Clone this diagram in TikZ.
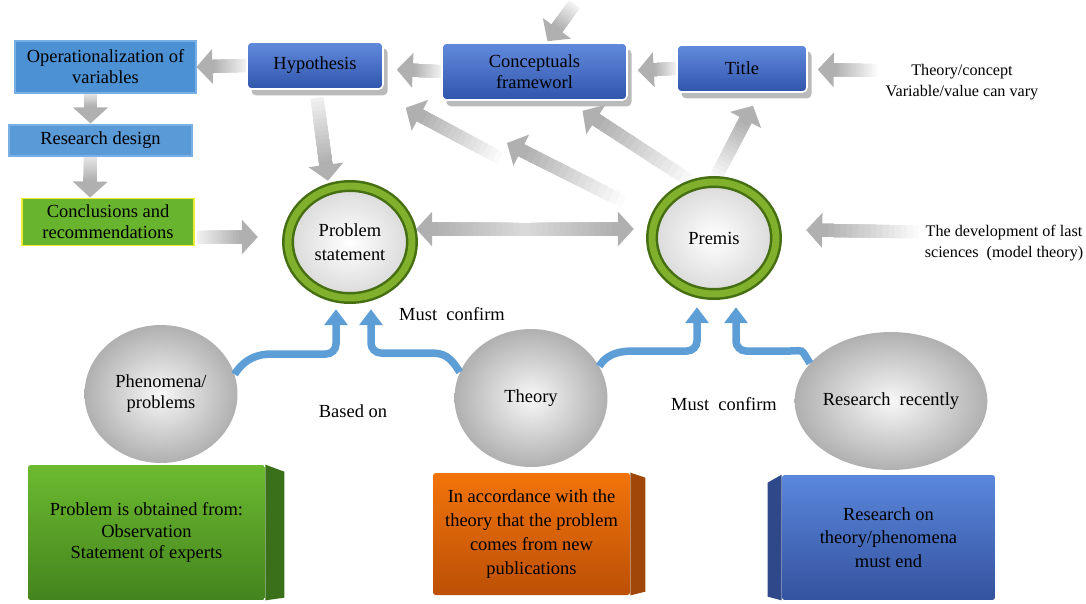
\documentclass[tikz,border=0pt]{standalone}
\usepackage{fontspec}
\setmainfont{Liberation Serif}
\usepackage{tikz}
\usetikzlibrary{shapes,arrows.meta,positioning,calc,shadows,backgrounds}
\definecolor{BoxBlue}{RGB}{76,145,212}
\definecolor{BoxBlueLine}{RGB}{120,175,228}
\definecolor{DeepBlueTop}{RGB}{98,138,220}
\definecolor{DeepBlueBot}{RGB}{48,86,172}
\definecolor{LeafGreen}{RGB}{104,180,46}
\definecolor{EdgeYellow}{RGB}{236,236,50}
\definecolor{RingDark}{RGB}{70,110,18}
\definecolor{RingLight}{RGB}{128,176,44}
\definecolor{ArrowBlue}{RGB}{94,158,214}
\definecolor{GreenTop}{RGB}{108,186,48}
\definecolor{GreenBot}{RGB}{68,132,30}
\definecolor{GreenSide}{RGB}{58,112,26}
\definecolor{OrangeTop}{RGB}{242,116,10}
\definecolor{OrangeBot}{RGB}{188,80,6}
\definecolor{OrangeSide}{RGB}{160,72,10}
\definecolor{BlueTop}{RGB}{90,135,220}
\definecolor{BlueBot}{RGB}{52,82,158}
\definecolor{BlueSide}{RGB}{46,72,138}

% wide grey arrow, light at the tail
\newcommand{\grayarrow}[3][12]{%
  \coordinate (gaB) at ($(#3)!0.32cm!(#2)$);
  \foreach \k [evaluate=\k as \tone using #1+(62-#1)*\k/15] in {0,...,15}
    \draw[line width=0.26cm, draw=gray!\tone] ($(#2)!\k/16!(gaB)$) -- ($(gaB)!-0.02cm!(#2)$);
  \fill[gray!62] (#3) -- ($(gaB)!0.35cm!90:(#2)$) -- ($(gaB)!0.35cm!-90:(#2)$) -- cycle;
}

\begin{document}
\begin{tikzpicture}[x=0.02cm, y=-0.02cm,
  every node/.style={font=\fontsize{10.5}{12}\selectfont, align=center},
  flatbox/.style={rectangle, draw=BoxBlueLine, fill=BoxBlue, line width=0.6pt, inner sep=1pt},
  glossbox/.style={rectangle, rounded corners=2.5pt, draw=white, line width=0.9pt,
    top color=DeepBlueTop, bottom color=DeepBlueBot,
    drop shadow={shadow xshift=2.6pt, shadow yshift=-3.6pt, fill=gray!60, opacity=0.9}},
  ring/.style={ellipse, inner color=white, outer color=gray!30, draw=RingDark, line width=0.05cm,
    double=RingLight, double distance=0.14cm, minimum width=2.48cm, minimum height=2.24cm,
    inner sep=0pt, font=\fontsize{10.5}{14}\selectfont},
  globe/.style={ellipse, inner color=gray!6, outer color=gray!62, minimum width=3.06cm, minimum height=2.76cm, inner sep=0pt},
  cube/.style={rectangle, rounded corners=1.5pt, inner sep=2pt, font=\fontsize{10.5}{13.5}\selectfont},
  bluearrow/.style={draw=ArrowBlue, line width=0.15cm, rounded corners=0.2cm,
    -{Triangle[width=0.46cm, length=0.32cm]}},
  txt/.style={inner sep=1pt},
  sidetxt/.style={inner sep=1pt, font=\fontsize{9.2}{12}\selectfont}]
  \useasboundingbox (0,0) rectangle (1086,603);

  \node[flatbox, minimum width=3.62cm, minimum height=1.04cm] (oper) at (105.5,67) {Operationalization of\\variables};
  \node[flatbox, fill=BoxBlue!92!white, minimum width=3.66cm, minimum height=0.62cm] (design) at (100.5,140.5) {Research design};
  \node[flatbox, draw=EdgeYellow, fill=LeafGreen, line width=1.1pt, minimum width=3.44cm, minimum height=0.94cm] (concl) at (108,222) {Conclusions and\\recommendations};

  \node[glossbox, minimum width=2.72cm, minimum height=0.94cm] (hyp) at (315,65.5) {Hypothesis};
  \node[glossbox, minimum width=3.7cm, minimum height=1.14cm] (concept) at (534.5,71.5) {Conceptuals\\frameworl};
  \node[glossbox, minimum width=2.6cm, minimum height=0.94cm] (title) at (742,68.5) {Title};
  \node[sidetxt] (thc) at (962,82.5) {Theory/concept\\Variable/value can vary};
  \node[sidetxt] (dev) at (1004,243) {The development of last\\sciences~ (model theory)};

  \node[ring] (prob) at (350,242) {Problem\\statement};
  \node[ring] (prem) at (714,238) {Premis};

  \node[globe] (phen) at (161,394) {Phenomena/\\problems};
  \node[globe] (theo) at (531,398) {Theory};
  \node[globe] (rsch) at (891,401) {Research~ recently};

  \node[txt] (conf1) at (452,314) {Must~ confirm};
  \node[txt] (based) at (353,411) {Based on};
  \node[txt] (conf2) at (724,404) {Must~ confirm};

  \node[cube, top color=GreenTop, bottom color=GreenBot, minimum width=4.74cm, minimum height=2.7cm,
    font=\fontsize{10.5}{12}\selectfont] (obtain) at (146.5,532.5) {Problem is obtained from:\\Observation\\Statement of experts};
  \node[cube, top color=OrangeTop, bottom color=OrangeBot, minimum width=3.94cm, minimum height=2.44cm] (accord) at (531.5,534) {In accordance with the\\theory that the problem\\comes from new\\publications};
  \node[cube, top color=BlueTop, bottom color=BlueBot, minimum width=4.26cm, minimum height=2.5cm] (endrs) at (888.5,537.5) {Research on\\theory/phenomena\\must end};
  \fill[GreenSide] (obtain.north east) -- ++(19,7) -- ++(0,126) -- (obtain.south east) -- cycle;
  \fill[OrangeSide] (accord.north east) -- ++(15,5) -- ++(0,114) -- (accord.south east) -- cycle;
  \fill[BlueSide] (endrs.north west) -- ++(-14,8) -- ++(0,114) -- (endrs.south west) -- cycle;

  \coordinate (hypTip) at ($(hyp.east)+(13,4)$);
  \coordinate (conTip) at ($(concept.east)+(10,-1)$);
  \coordinate (ttlTip) at ($(title.east)+(10,1)$);
  \coordinate (thcTail) at ($(thc.west)+(-6,-12)$);
  \coordinate (opTail) at ($(oper.south)+(-15,0)$);
  \coordinate (dsTip) at ($(design.north)+(-10,-1)$);
  \coordinate (dsTail) at ($(design.south)+(-10,0)$);
  \coordinate (ccTip) at ($(concl.north)+(-18,0)$);
  \coordinate (ccTail) at ($(concl.east)+(2,15)$);
  \coordinate (pbWest) at ($(prob.west)+(-29,-5)$);
  \coordinate (hypTail) at ($(hyp.south)+(2,8)$);
  \coordinate (pbTop) at ($(prob.north)+(-22,-4)$);
  \coordinate (dm) at (525,229);
  \coordinate (dl) at ($(prob.east)+(3,-13)$);
  \coordinate (dr) at ($(prem.west)+(-17,-9)$);
  \coordinate (cnTip) at ($(concept.south)+(48,10)$);
  \coordinate (aTail) at (500,158);
  \coordinate (hpTip) at ($(hyp.south east)+(22,18)$);
  \coordinate (pb) at ($(prem.center)+(-90,-36)$);
  \coordinate (free) at (507,143);
  \coordinate (ttTip) at ($(title.south)+(11,13)$);
  \coordinate (tp) at ($(concept.north)+(40,-38)$);
  \coordinate (cnTop) at ($(concept.north)+(13,-1)$);
  \coordinate (devTail) at ($(dev.west)+(-4,-11)$);
  \coordinate (pmEast) at ($(prem.east)+(29,-8)$);
  \coordinate (pbL) at ($(prob.south)+(-14,10)$);
  \coordinate (pbR) at ($(prob.south)+(21,10)$);
  \coordinate (pmL) at ($(prem.south)+(-17,12)$);
  \coordinate (pmR) at ($(prem.south)+(22,12)$);

  \begin{scope}[on background layer]
    \grayarrow{hyp.west}{oper.east}
    \grayarrow{concept.west}{hypTip}
    \grayarrow{title.west}{conTip}
    \grayarrow[4]{thcTail}{ttlTip}
    \grayarrow[20]{opTail}{dsTip}
    \grayarrow[20]{dsTail}{ccTip}
    \grayarrow{ccTail}{pbWest}
    \grayarrow{hypTail}{pbTop}
    \grayarrow[30]{dm}{dl}
    \grayarrow[30]{dm}{dr}
    \grayarrow[4]{aTail}{hpTip}
    \grayarrow[2]{pb}{free}
    \grayarrow[2]{prem.110}{cnTip}
    \grayarrow[2]{prem.north}{ttTip}
    \grayarrow[10]{tp}{cnTop}
    \grayarrow[4]{devTail}{pmEast}
  \end{scope}

  \draw[bluearrow] (phen.15) .. controls +(10,-16) and +(-24,0) .. (282,354) -| (pbL);
  \draw[bluearrow] (theo.160) .. controls +(-10,-16) and +(24,0) .. (420,353) -| (pbR);
  \draw[bluearrow] (theo.25) .. controls +(10,-16) and +(-24,0) .. (650,351) -| (pmL);
  \draw[bluearrow] (rsch.155) .. controls +(-10,-16) and +(24,0) .. (780,351) -| (pmR);
\end{tikzpicture}
\end{document}
